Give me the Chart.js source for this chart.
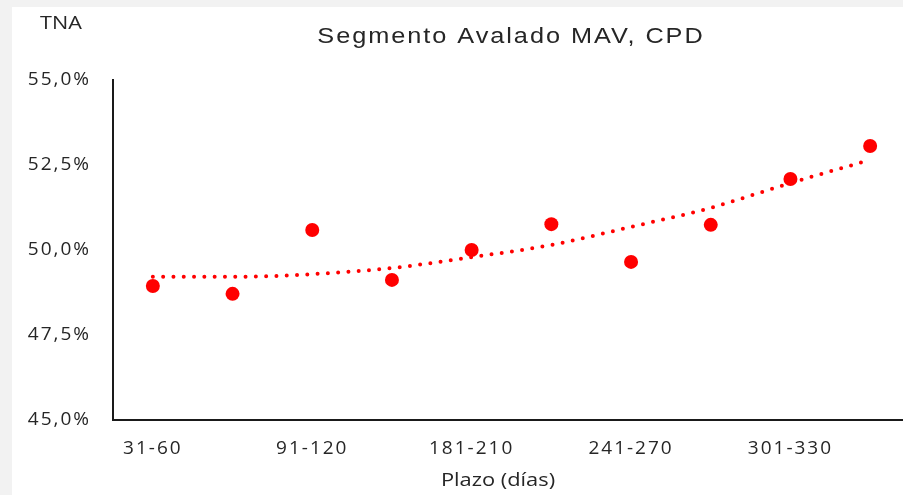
<!DOCTYPE html>
<html>
<head>
<meta charset="utf-8">
<script src="https://cdn.jsdelivr.net/npm/chart.js@4.4.1/dist/chart.umd.min.js"></script>
<style>
    html, body { margin: 0; padding: 0; background: #f2f2f2; overflow: hidden; }
    /* wider than the window: the plot runs past the right edge as in the reference */
    #card { position: absolute; left: 12px; top: 7px; width: 905px; height: 488px; background: #fff; }
</style>
</head>
<body>
<div id="card"><canvas id="tnaChart"></canvas></div>
<script>
// Chart data
const plazos = ['31-60', '61-90', '91-120', '121-180', '181-210', '211-240', '241-270', '271-300', '301-330', '331-360'];
const tnaValues = [48.94, 48.71, 50.59, 49.12, 50.0, 50.76, 49.65, 50.74, 52.09, 53.06];
const trendValues = [49.21, 49.21, 49.29, 49.47, 49.79, 50.15, 50.68, 51.24, 51.97, 52.65];
const yTicks = [45, 47.5, 50, 52.5, 55];

const textColor = '#262626';
const red = '#ff0000';

// Spread the glyphs a bit, the reference text is drawn wide
const spacingPlugin = {
    id: 'spacing',
    beforeDraw(chart) {
        chart.ctx.letterSpacing = '2px';
    },
};

// draw text stretched horizontally around (x, y)
function wideText(ctx, text, x, y, sx) {
    ctx.save();
    ctx.translate(x, y);
    ctx.scale(sx, 1);
    ctx.fillText(text, 0, 0);
    ctx.restore();
}

// Title, y axis name and x axis name
const labelsPlugin = {
    id: 'labels',
    afterDraw(chart) {
        const ctx = chart.ctx;
        ctx.save();
        ctx.fillStyle = textColor;
        ctx.textAlign = 'center';
        ctx.textBaseline = 'alphabetic';

        ctx.letterSpacing = '1.7px';
        ctx.font = '22px "Liberation Sans", Arial, sans-serif';
        wideText(ctx, 'Segmento Avalado MAV, CPD', 499, 36, 1.15);

        ctx.letterSpacing = '0px';
        ctx.font = '18px "Open Sans", sans-serif';
        wideText(ctx, 'TNA', 49, 22, 1.2);

        ctx.font = '19px "Open Sans", sans-serif';
        wideText(ctx, 'Plazo (días)', 486, 479, 1.15);
        ctx.restore();
    },
};

const ctx = document.getElementById('tnaChart').getContext('2d');
const tnaChart = new Chart(ctx, {
    type: 'line',
    data: {
        labels: plazos,
        datasets: [
            {
                label: 'TNA',
                data: tnaValues,
                showLine: false,
                pointRadius: 7,
                pointHoverRadius: 7,
                pointBackgroundColor: red,
                pointBorderColor: red,
                pointBorderWidth: 0,
                order: 0,
            },
            {
                label: 'Tendencia',
                data: trendValues,
                borderColor: red,
                borderWidth: 4,
                borderDash: [0, 10.3],
                borderCapStyle: 'round',
                cubicInterpolationMode: 'monotone',
                pointRadius: 0,
                fill: false,
                order: 1,
            },
        ],
    },
    options: {
        responsive: true,
        maintainAspectRatio: false,
        animation: false,
        layout: {
            padding: { top: 73, right: 0, bottom: 0, left: 0 },
        },
        plugins: {
            legend: { display: false },
            title: { display: false },
            tooltip: { enabled: false },
        },
        scales: {
            x: {
                offset: true,
                grid: { display: false, drawTicks: false },
                border: { display: true, color: '#1a1a1a', width: 2 },
                ticks: {
                    autoSkip: false,
                    maxRotation: 0,
                    padding: 17,
                    color: textColor,
                    font: { family: '"Open Sans", sans-serif', size: 19 },
                    callback: function (value, index) {
                        return index % 2 === 0 ? plazos[index] : '';
                    },
                },
                afterFit: function (scale) {
                    scale.height = 75;
                },
            },
            y: {
                min: 45,
                max: 55,
                grid: { display: false, drawTicks: false },
                border: { display: true, color: '#1a1a1a', width: 2 },
                afterBuildTicks: function (scale) {
                    scale.ticks = yTicks.map(v => ({ value: v }));
                },
                ticks: {
                    padding: 22,
                    color: textColor,
                    font: { family: '"Open Sans", sans-serif', size: 19 },
                    callback: function (value) {
                        return value.toFixed(1).replace('.', ',') + '%';
                    },
                },
                afterFit: function (scale) {
                    scale.width = 101;
                },
            },
        },
    },
    plugins: [spacingPlugin, labelsPlugin],
});
</script>
</body>
</html>
